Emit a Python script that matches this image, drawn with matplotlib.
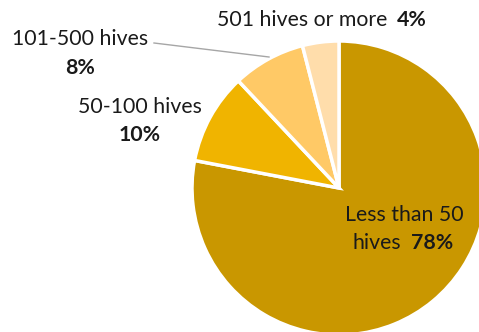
import matplotlib
matplotlib.use("Agg")
import matplotlib.pyplot as plt

categories = ["Less than 50 hives", "50-100 hives", "101-500 hives", "501 hives or more"]
shares = [78, 10, 8, 4]
colors = ["#C99700", "#F0B400", "#FFC966", "#FFDDAB"]

plt.rcParams["font.family"] = ["Lato", "DejaVu Sans"]
W, H = 479, 332
fig = plt.figure(figsize=(W / 100, H / 100), dpi=100)
ax = fig.add_axes([0, 0, 1, 1])

cx, cy, r = 339, H - 188, 147
ax.pie(shares, colors=colors, startangle=90, counterclock=False,
       center=(cx, cy), radius=r, frame=True,
       wedgeprops=dict(edgecolor="white", linewidth=2.5))
ax.set_xlim(0, W)
ax.set_ylim(0, H)
ax.set_aspect("equal")
ax.axis("off")

fs = 15.3
def y(py):
    return H - py

def label(x, py, s, bold=False):
    ax.text(x, y(py), s, fontsize=fs, ha="center", va="center",
            fontweight="bold" if bold else "normal", color="#1a1a1a")

# Less than 50 hives
label(404, 215, "Less than 50")
label(377, 243, "hives")
label(432, 243, f"{shares[0]}%", bold=True)

# 50-100 hives
label(140, 107, "50-100 hives")
label(140, 135, f"{shares[1]}%", bold=True)

# 101-500 hives
label(80, 39, "101-500 hives")
label(80, 68, f"{shares[2]}%", bold=True)
ax.plot([154, 269], [y(43), y(57)], color="#A6A6A6", linewidth=1)

# 501 hives or more
label(302.5, 20, "501 hives or more")
label(412, 20, f"{shares[3]}%", bold=True)

fig.savefig("out.png", dpi=100)
